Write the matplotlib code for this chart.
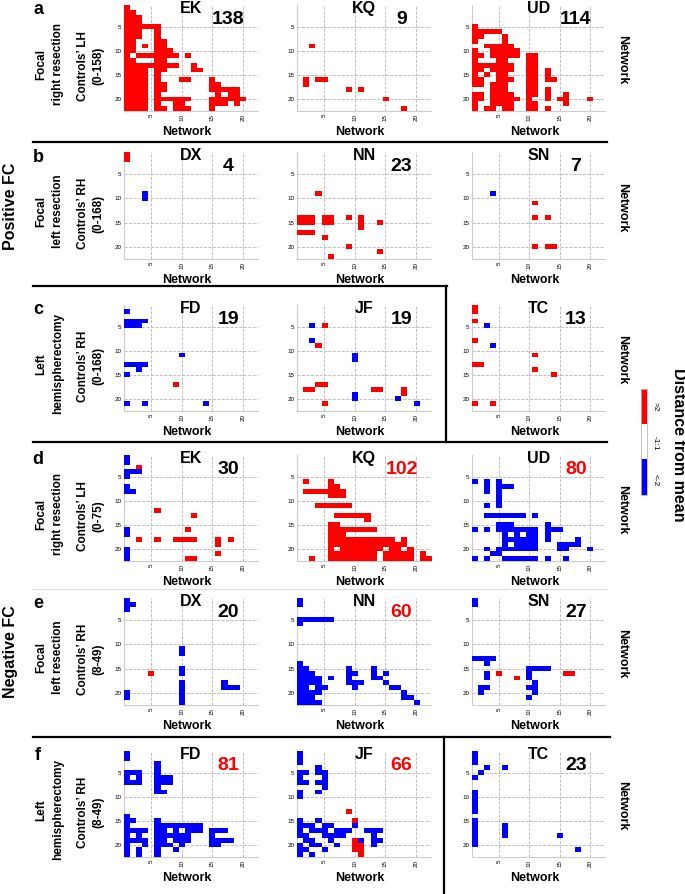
import numpy as np
import matplotlib.pyplot as plt
from matplotlib.colors import ListedColormap
from matplotlib.lines import Line2D

plt.rcParams['font.family'] = ['Liberation Sans', 'DejaVu Sans']

W, H = 685, 894
N = 22  # networks

# ---- data ------------------------------------------------------------
row_letters = ['a', 'b', 'c', 'd', 'e', 'f']
row_groups = [('Focal', 'right resection'), ('Focal', 'left resection'), ('Left', 'hemispherectomy'),
              ('Focal', 'right resection'), ('Focal', 'left resection'), ('Left', 'hemispherectomy')]
row_controls = [('Controls’ LH', '(0-158)'), ('Controls’ RH', '(0-168)'), ('Controls’ RH', '(0-168)'),
                ('Controls’ LH', '(0-75)'), ('Controls’ RH', '(8-49)'), ('Controls’ RH', '(8-49)')]
subjects = [['EK', 'KQ', 'UD'], ['DX', 'NN', 'SN'], ['FD', 'JF', 'TC'],
            ['EK', 'KQ', 'UD'], ['DX', 'NN', 'SN'], ['FD', 'JF', 'TC']]
counts = [[138, 9, 114], [4, 23, 7], [19, 19, 13],
          [30, 102, 80], [20, 60, 27], [81, 66, 23]]
count_red = [[0, 0, 0], [0, 0, 0], [0, 0, 0],
             [0, 1, 1], [0, 1, 0], [1, 1, 0]]

# cells: {row: "columns"} ; red = >2, blue = <-2
a_EK_red = {1: "1", 2: "1-2", 3: "1-3", 4: "1-3", 5: "1-6", 6: "1-3,6", 7: "1-3,6",
            8: "1-2,6-7", 9: "1-2,4,6-7", 10: "1-2,6-8", 11: "1,3-9,11", 12: "1-2,6-7",
            13: "1-9,12", 14: "1-4,6-7,12-13", 15: "1-4,6", 16: "1-4,6,10-11,15",
            17: "1-4,6-7,15-16", 18: "1-4,6-7,15-19", 19: "1-4,6,16,18-19",
            20: "1-4,6-11,15-20", 21: "1-4,6,9-10,15-17,19", 22: "1-4,6-7,9-11,15"}
a_KQ_red = {9: "3", 16: "2,4-5", 17: "2", 18: "9,11", 20: "15", 22: "18"}
a_UD_red = {5: "1", 6: "1-5", 7: "1-2,6", 8: "1,6", 9: "3-7", 10: "1,4-8",
            11: "1-2,4-8,10-11", 12: "1,5-6,10-11", 13: "1-7,10-11", 14: "1-2,4-7,10-11,13",
            15: "1,3,5-6,10-11,13", 16: "1-2,5-7,10-11,13-14", 17: "1-2,4-6,10-11",
            18: "4-6,10-11,13", 19: "1-2,4-7,10-11,13,16", 20: "1-2,4-8,10,13,15-16,20",
            21: "1,4-7,10-11,16", 22: "1,3-4,6-7,10-11,13"}

b_DX_red = {1: "1", 2: "1"}
b_DX_blue = {9: "4", 10: "4"}
b_NN_red = {9: "4", 14: "1-3,5-6,9,11", 15: "1-3,5-6,11,14", 16: "11", 17: "1-3",
            18: "5", 20: "9", 21: "14", 22: "6"}
b_SN_red = {11: "11", 14: "11,13", 20: "11,13-14"}
b_SN_blue = {9: "4"}

c_FD_red = {17: "9"}
c_FD_blue = {2: "1", 4: "1-4", 5: "1-3", 11: "10", 13: "1-4", 14: "3", 15: "1", 21: "1,4,14"}
c_JF_red = {5: "5", 9: "4", 17: "4-5", 18: "2-3,13-14,18", 19: "18", 21: "5"}
c_JF_blue = {5: "3", 8: "3", 11: "10", 12: "10", 19: "10", 20: "10,17", 21: "20"}
c_TC_red = {1: "1", 2: "1", 4: "1", 8: "1", 11: "11", 13: "1-2", 14: "11", 15: "14", 21: "1,4"}
c_TC_blue = {5: "3", 9: "4"}

d_EK_red = {3: "3", 12: "6", 13: "12", 16: "11", 18: "3,6,9-12,16,18", 19: "16",
            21: "16", 22: "11-12"}
d_EK_blue = {1: "1", 2: "1", 4: "1-3", 5: "1", 7: "1", 8: "1-2", 16: "1", 17: "1",
             20: "1", 21: "1", 22: "1"}
d_KQ_red = {6: "2,6", 7: "6-7", 8: "2-8", 9: "6-8", 11: "4-9", 13: "7-12", 14: "12",
            15: "6-7", 16: "6-13", 17: "6-8", 18: "6-16,18", 19: "6-18",
            20: "6,8-14,16-17,19", 21: "6-13,15-19,21", 22: "3,6-13,15-19,21-22"}
d_UD_blue = {6: "1,3,5", 7: "3,5-7", 8: "3,5", 9: "5", 10: "5", 11: "3,5", 13: "3-9,11",
             15: "5-7,13", 16: "1,3,5-11,13-15", 17: "6,8,10-11,13", 18: "6-11,13,18",
             19: "6,8-11,15-18", 20: "3,5-11,15-16,20", 21: "4-5", 22: "1,3,6-11,13,16"}

e_DX_red = {16: "5"}
e_DX_blue = {1: "1", 2: "1-2", 3: "1", 11: "10", 12: "10", 15: "10", 16: "10",
             18: "10,17", 19: "10,17-19", 20: "1,10", 21: "1,10", 22: "10"}
e_NN_blue = {1: "1", 2: "1", 5: "1-6", 6: "1", 14: "1", 15: "1-2,9,13",
             16: "1-3,9-10,13,15", 17: "1-4,6,9,13-14", 18: "1-4,9-11,15",
             19: "1-2,4-5,10,16-17", 20: "1-4,18", 21: "1-3,18-19", 22: "1-4,20"}
e_SN_red = {16: "5,16-17", 17: "8"}
e_SN_blue = {1: "1", 2: "1", 13: "1-4", 14: "3", 15: "10-13", 16: "3,10", 17: "3,10",
             18: "11", 19: "2-3,10-11", 20: "2,11", 21: "10"}

f_FD_blue = {1: "1", 2: "1", 3: "6", 4: "6", 5: "1-3,6", 6: "1,3,6-8", 7: "1-3,6-8",
             8: "6", 9: "6-7", 14: "1", 15: "1-2,6", 16: "1,6-13",
             17: "1-4,6-7,9,11-13,15-17", 18: "1,3,6-11,15", 19: "1-4,6-7,9-11,15-18",
             20: "1,4,6-8,10,15-16", 21: "1,3,6,9", 22: "1,3,6"}
f_JF_red = {13: "9", 15: "10", 19: "10", 20: "10-11", 21: "10-11", 22: "11"}
f_JF_blue = {1: "1", 2: "1", 3: "1", 4: "4", 5: "1-2,4-5", 6: "1,5", 7: "1-2,4-5", 8: "5",
             9: "1,4", 10: "1", 15: "1,4", 16: "1-3,5-6,10", 17: "1,3-5,7-9,12-14",
             18: "1-2,5-8,13", 19: "2-3,6,11,13-14", 20: "1,3-4,7,13", 21: "1-2,5", 22: "1,3"}
f_TC_blue = {1: "1", 2: "1", 3: "1", 4: "3,6", 5: "2", 6: "1", 9: "1", 10: "1", 11: "1",
             12: "1", 13: "1", 15: "1", 16: "1,6", 17: "1,6", 18: "1,6,15", 19: "1",
             20: "1", 21: "18"}

panels = [[(a_EK_red, {}), (a_KQ_red, {}), (a_UD_red, {})],
          [(b_DX_red, b_DX_blue), (b_NN_red, {}), (b_SN_red, b_SN_blue)],
          [(c_FD_red, c_FD_blue), (c_JF_red, c_JF_blue), (c_TC_red, c_TC_blue)],
          [(d_EK_red, d_EK_blue), (d_KQ_red, {}), ({}, d_UD_blue)],
          [(e_DX_red, e_DX_blue), ({}, e_NN_blue), (e_SN_red, e_SN_blue)],
          [({}, f_FD_blue), (f_JF_red, f_JF_blue), ({}, f_TC_blue)]]

RED = '#ff0000'
BLUE = '#0000ff'


def cols_of(spec):
    out = []
    for part in spec.split(','):
        if '-' in part:
            a, b = part.split('-')
            out += list(range(int(a), int(b) + 1))
        else:
            out.append(int(part))
    return out


def matrix(red, blue):
    m = np.full((N, N), np.nan)
    for r, s in red.items():
        for c in cols_of(s):
            m[r - 1, c - 1] = 1
    for r, s in blue.items():
        for c in cols_of(s):
            m[r - 1, c - 1] = -1
    return m


# pixel layout
col_x = [(124, 258), (297, 431), (472, 605)]
row_y = [(5, 111), (152, 259), (305, 411), (455, 561), (598, 705), (751, 857)]


def fx(x):
    return x / W


def fy(y):
    return 1 - y / H


fig = plt.figure(figsize=(W / 100, H / 100), dpi=100)
cmap = ListedColormap([BLUE, RED])

for i in range(6):
    y0, y1 = row_y[i]
    yc = (y0 + y1) / 2
    for j in range(3):
        x0, x1 = col_x[j]
        ax = fig.add_axes([fx(x0), fy(y1), (x1 - x0) / W, (y1 - y0) / H])
        ax.imshow(matrix(*panels[i][j]), cmap=cmap, vmin=-1, vmax=1,
                  extent=(0.5, N + 0.5, N + 0.5, 0.5), aspect='auto',
                  interpolation='nearest', zorder=3)
        ax.set_xlim(0.5, N + 0.5)
        ax.set_ylim(N + 0.5, 0.5)
        ax.set_xticks([5, 10, 15, 20])
        ax.set_yticks([5, 10, 15, 20])
        ax.tick_params(length=0, labelsize=4.5, pad=2)
        plt.setp(ax.get_xticklabels(), rotation=90)
        ax.grid(True, linestyle='--', color='#b5b5b5', linewidth=0.6)
        for s in ['top', 'right']:
            ax.spines[s].set_visible(False)
        for s in ['left', 'bottom']:
            ax.spines[s].set_color('#cccccc')
            ax.spines[s].set_linewidth(0.8)
        ax.text(0.5, 0.965, subjects[i][j], transform=ax.transAxes, ha='center',
                va='center', fontsize=11.5, fontweight='bold', zorder=5)
        ax.text(0.78, 0.86, str(counts[i][j]), transform=ax.transAxes, ha='center',
                va='center', fontsize=14, fontweight='bold',
                color=RED if count_red[i][j] else 'black', zorder=5)
        fig.text(fx((x0 + x1) / 2 - 4), fy(y1 + 21), 'Network', ha='center', va='center',
                 fontsize=9, fontweight='bold')
    # left side labels
    fig.text(fx(38), fy(y0 + 5), row_letters[i], ha='center', va='center',
             fontsize=13, fontweight='bold')
    fig.text(fx(41), fy(yc + 6), row_groups[i][0], ha='center', va='center', rotation=90,
             fontsize=8.5, fontweight='bold')
    fig.text(fx(58), fy(yc + 6), row_groups[i][1], ha='center', va='center', rotation=90,
             fontsize=8.5, fontweight='bold')
    fig.text(fx(82.5), fy(yc + 8), row_controls[i][0], ha='center', va='center', rotation=90,
             fontsize=8.5, fontweight='bold')
    fig.text(fx(98.5), fy(yc + 8), row_controls[i][1], ha='center', va='center', rotation=90,
             fontsize=8.5, fontweight='bold')
    fig.text(fx(622), fy(yc + 2), 'Network', ha='center', va='center', rotation=-90,
             fontsize=9, fontweight='bold')

fig.text(fx(11), fy(206), 'Positive FC', ha='center', va='center', rotation=90,
         fontsize=11.5, fontweight='bold')
fig.text(fx(11), fy(652), 'Negative FC', ha='center', va='center', rotation=90,
         fontsize=11.5, fontweight='bold')

# colour key
cax = fig.add_axes([fx(640.5), fy(495), 6 / W, 106 / H])
cax.imshow(np.array([[1.0], [np.nan], [-1.0]]), cmap=cmap, vmin=-1, vmax=1,
           aspect='auto', interpolation='nearest')
cax.set_xticks([])
cax.set_yticks([])
for s in cax.spines.values():
    s.set_color('#bbbbbb')
    s.set_linewidth(0.6)
key_labels = ['>2', '-1:1', '<-2']
for k, yk in enumerate([407, 443, 480]):
    fig.text(fx(655), fy(yk), key_labels[k], ha='center', va='center', rotation=-90,
             fontsize=6)
fig.text(fx(678), fy(445), 'Distance from mean', ha='center', va='center', rotation=-90,
         fontsize=11.5, fontweight='bold')


# separator lines
def hline(y, xa, xb, color='black', lw=1.6):
    fig.add_artist(Line2D([fx(xa), fx(xb)], [fy(y), fy(y)], color=color, lw=lw))


def vline(x, ya, yb, color='black', lw=1.6):
    fig.add_artist(Line2D([fx(x), fx(x)], [fy(ya), fy(yb)], color=color, lw=lw))


hline(142, 33, 607)
hline(286, 33, 447)
vline(446, 286, 442)
hline(442, 33, 607)
hline(589, 33, 607, color='#dddddd', lw=0.8)
hline(737, 33, 610)
vline(444, 737, 894)

fig.savefig('out.png', dpi=100)
